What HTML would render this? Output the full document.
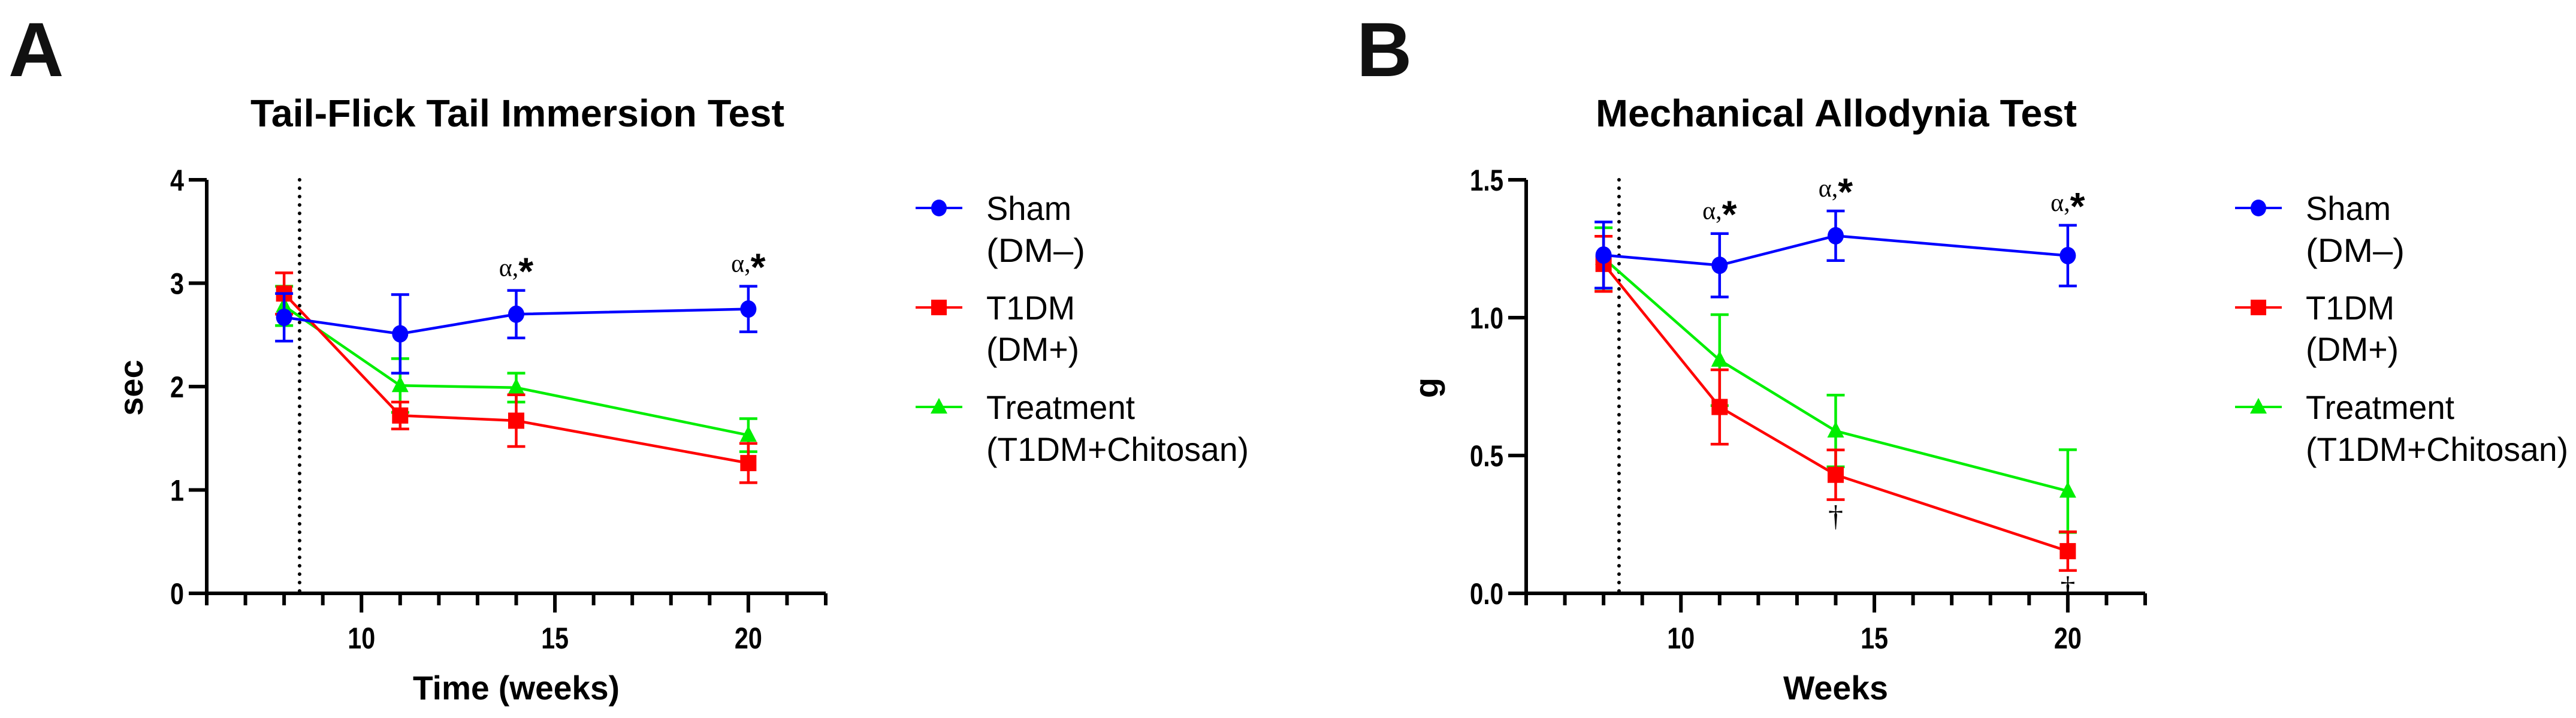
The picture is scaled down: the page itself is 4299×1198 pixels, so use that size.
<!DOCTYPE html>
<html><head><meta charset="utf-8"><style>
html,body{margin:0;padding:0;background:#fff;}
svg{display:block;font-family:"Liberation Sans",sans-serif;}
</style></head><body>
<svg id="fig" width="4299" height="1198" viewBox="0 0 4299 1198" xmlns="http://www.w3.org/2000/svg">
<rect width="4299" height="1198" fill="#fff"/>
</svg>
<script>
// ---- data ----
const weeks = [8, 11, 14, 20];
const seriesNames = ["Sham", "T1DM", "Treatment"];
const aSham = [2.67, 2.51, 2.70, 2.75];
const aShamErr = [0.23, 0.38, 0.23, 0.22];
const aT1DM = [2.90, 1.72, 1.67, 1.26];
const aT1DMErr = [0.20, 0.13, 0.25, 0.19];
const aTreat = [2.78, 2.01, 1.99, 1.53];
const aTreatErr = [0.19, 0.26, 0.14, 0.16];
const bSham = [1.227, 1.19, 1.297, 1.225];
const bShamErr = [0.12, 0.115, 0.09, 0.11];
const bT1DM = [1.195, 0.676, 0.43, 0.153];
const bT1DMErr = [0.10, 0.135, 0.09, 0.07];
const bTreat = [1.216, 0.846, 0.589, 0.371];
const bTreatErr = [0.11, 0.165, 0.13, 0.15];
const aYTicks = [0, 1, 2, 3, 4];
const aYTickLabels = ["0", "1", "2", "3", "4"];
const bYTicks = [0, 0.5, 1.0, 1.5];
const bYTickLabels = ["0.0", "0.5", "1.0", "1.5"];
const xTickLabels = [10, 15, 20];
const aSigWeeks = [14, 20];
const bSigWeeks = [11, 14, 20];
const bDaggerWeeks = [14, 20];
const interventionWeek = 8.4;

const NS = "http://www.w3.org/2000/svg";
const svg = document.getElementById("fig");
function el(tag, attrs, parent, text) {
  const e = document.createElementNS(NS, tag);
  for (const k in attrs) e.setAttribute(k, attrs[k]);
  if (text !== undefined) e.textContent = text;
  (parent || svg).appendChild(e);
  return e;
}
function labLen(s) { let n = 0; for (const ch of s) n += (ch === "." ? 10 : 23); return n; }
const colors = { Sham: "#0000ff", T1DM: "#ff0000", Treatment: "#00ee00" };

function panel(cfg) {
  const g = el("g", {}, svg);
  
  
  const ox = cfg.ox;
  const x0 = 345 + ox, x1 = 1378 + ox, yTop = 300, yBot = 990;
  const sx = w => x0 + (w - 6) * (x1 - x0) / 16;
  const sy = v => yBot - v * (yBot - yTop) / cfg.ymax;

  const L = el("text", { x: cfg.letterX, y: 127, "font-size": 128, "font-weight": "bold", fill: "#111" }, g, cfg.letter);
  
  
  const T = el("text", { x: cfg.titleX, y: 211, "font-size": 64, "font-weight": "bold", textLength: cfg.titleLen, lengthAdjust: "spacingAndGlyphs" }, g, cfg.title);
  
  

  const ax = el("g", { stroke: "#000", "stroke-width": 6 }, g);
  
  
  el("line", { x1: x0, y1: yTop, x2: x0, y2: yBot + 3 }, ax);
  el("line", { x1: x0 - 3, y1: yBot, x2: x1, y2: yBot }, ax);
  cfg.yTicks.forEach((v, i) => {
    el("line", { x1: x0 - 30, y1: sy(v), x2: x0, y2: sy(v) }, ax);
    const s = cfg.yTickLabels[i];
    const t = el("text", { x: x0 - 38, y: sy(v) + 18, "font-size": 50, "font-weight": "bold", "text-anchor": "end", stroke: "none", fill: "#000", textLength: labLen(s), lengthAdjust: "spacingAndGlyphs" }, g, s);
    
    
  });
  for (let w = 6; w <= 22; w++) {
    const major = xTickLabels.includes(w);
    el("line", { x1: sx(w), y1: yBot, x2: sx(w), y2: yBot + (major ? 32 : 20) }, ax);
  }
  xTickLabels.forEach(w => {
    const s = String(w);
    const t = el("text", { x: sx(w), y: 1082, "font-size": 50, "font-weight": "bold", "text-anchor": "middle", textLength: labLen(s), lengthAdjust: "spacingAndGlyphs" }, g, s);
    
    
  });
  const xt = el("text", { x: sx(cfg.xTitleCenter), y: 1167, "font-size": 56, "font-weight": "bold", "text-anchor": "middle", textLength: cfg.xTitleLen, lengthAdjust: "spacingAndGlyphs" }, g, cfg.xTitle);
  
  
  const yt = el("text", { x: 0, y: 0, "font-size": 56, "font-weight": "bold", "text-anchor": "middle", transform: `translate(${cfg.yTitleX},647) rotate(-90)` }, g, cfg.yTitle);
  
  

  const dl = el("line", { x1: sx(interventionWeek), y1: yTop, x2: sx(interventionWeek), y2: yBot, stroke: "#000", "stroke-width": 6, "stroke-dasharray": "0 14", "stroke-linecap": "round" }, g);
  
  

  const order = ["Treatment", "T1DM", "Sham"];
  order.forEach(name => {
    const vals = cfg.data[name][0], errs = cfg.data[name][1], c = colors[name];
    const sg = el("g", {}, g);
    
    
    el("polyline", { points: weeks.map((w, i) => sx(w) + "," + sy(vals[i])).join(" "), fill: "none", stroke: c, "stroke-width": 4.5 }, sg);
    weeks.forEach((w, i) => {
      const x = sx(w), y = sy(vals[i]), yt2 = sy(vals[i] + errs[i]), yb = sy(vals[i] - errs[i]);
      const eb = el("g", { stroke: c, "stroke-width": 4.5 }, sg);
      
      
      el("line", { x1: x, y1: yt2, x2: x, y2: yb }, eb);
      el("line", { x1: x - 15, y1: yt2, x2: x + 15, y2: yt2 }, eb);
      el("line", { x1: x - 15, y1: yb, x2: x + 15, y2: yb }, eb);
      let m;
      if (name === "Sham") m = el("ellipse", { cx: x, cy: y, rx: 13.5, ry: 14.5, fill: c }, sg);
      else if (name === "T1DM") m = el("rect", { x: x - 13.5, y: y - 13.5, width: 27, height: 27, fill: c }, sg);
      else m = el("polygon", { points: `${x},${y - 16} ${x + 14},${y + 11} ${x - 14},${y + 11}`, fill: c }, sg);
      
      
    });
  });

  cfg.sigWeeks.forEach(w => {
    const i = weeks.indexOf(w);
    const top = sy(cfg.data.Sham[0][i] + cfg.data.Sham[1][i]);
    const t = el("text", { x: sx(w), y: top - 24, "text-anchor": "middle", "font-size": 42 }, g);
    
    
    el("tspan", { "font-family": "Liberation Serif, serif" }, t, "α,");
    el("tspan", { "font-size": 64, "font-weight": "bold", dy: 14 }, t, "*");
  });
  (cfg.daggerWeeks || []).forEach(w => {
    const i = weeks.indexOf(w);
    const bot = sy(cfg.data.T1DM[0][i] - cfg.data.T1DM[1][i]);
    const t = el("text", { x: sx(w), y: bot + 44, "text-anchor": "middle", "font-size": 50, "font-family": "Liberation Serif, serif" }, g, "†");
    
    
  });

  const lg = el("g", {}, g);
  
  
  const rows = [["Sham", 347, ["Sham", 367, 1646], [" (DM\u2013)", 437, 1646]],
                ["T1DM", 513, ["T1DM", 533, 1646], ["(DM+)", 602, 1646]],
                ["Treatment", 679, ["Treatment", 699, 1646], ["(T1DM+Chitosan)", 769, 1646]]];
  rows.forEach(r => {
    const name = r[0], my = r[1], c = colors[name], mx = 1567 + ox;
    const le = el("g", {}, lg);
    
    
    el("line", { x1: mx - 39, y1: my, x2: mx + 39, y2: my, stroke: c, "stroke-width": 4 }, le);
    if (name === "Sham") el("ellipse", { cx: mx, cy: my, rx: 13, ry: 14, fill: c }, le);
    else if (name === "T1DM") el("rect", { x: mx - 13, y: my - 13, width: 26, height: 26, fill: c }, le);
    else el("polygon", { points: `${mx},${my - 15} ${mx + 14},${my + 11} ${mx - 14},${my + 11}`, fill: c }, le);
    [r[2], r[3]].forEach(tt => {
      const lens = { "Sham": 142, " (DM\u2013)": 165, "T1DM": 148, "(DM+)": 155, "Treatment": 248, "(T1DM+Chitosan)": 438 };
      el("text", { x: tt[2] + ox, y: tt[1], "font-size": 56, textLength: lens[tt[0]], lengthAdjust: "spacingAndGlyphs", "xml:space": "preserve" }, le, tt[0]);
    });
  });
}

panel({ name: "panel-a", ox: 0, letter: "A", letterX: 14, title: "Tail-Flick Tail Immersion Test", titleX: 418, titleLen: 891,
  ymax: 4, yTicks: aYTicks, yTickLabels: aYTickLabels, xTitle: "Time (weeks)", xTitleCenter: 14, xTitleLen: 345,
  yTitle: "sec", yTitleX: 238, sigWeeks: aSigWeeks,
  data: { Sham: [aSham, aShamErr], T1DM: [aT1DM, aT1DMErr], Treatment: [aTreat, aTreatErr] } });
panel({ name: "panel-b", ox: 2202, letter: "B", letterX: 2264, title: "Mechanical Allodynia Test", titleX: 2663, titleLen: 803,
  ymax: 1.5, yTicks: bYTicks, yTickLabels: bYTickLabels, xTitle: "Weeks", xTitleCenter: 14, xTitleLen: 175,
  yTitle: "g", yTitleX: 2400, sigWeeks: bSigWeeks, daggerWeeks: bDaggerWeeks,
  data: { Sham: [bSham, bShamErr], T1DM: [bT1DM, bT1DMErr], Treatment: [bTreat, bTreatErr] } });
</script>
</body></html>
